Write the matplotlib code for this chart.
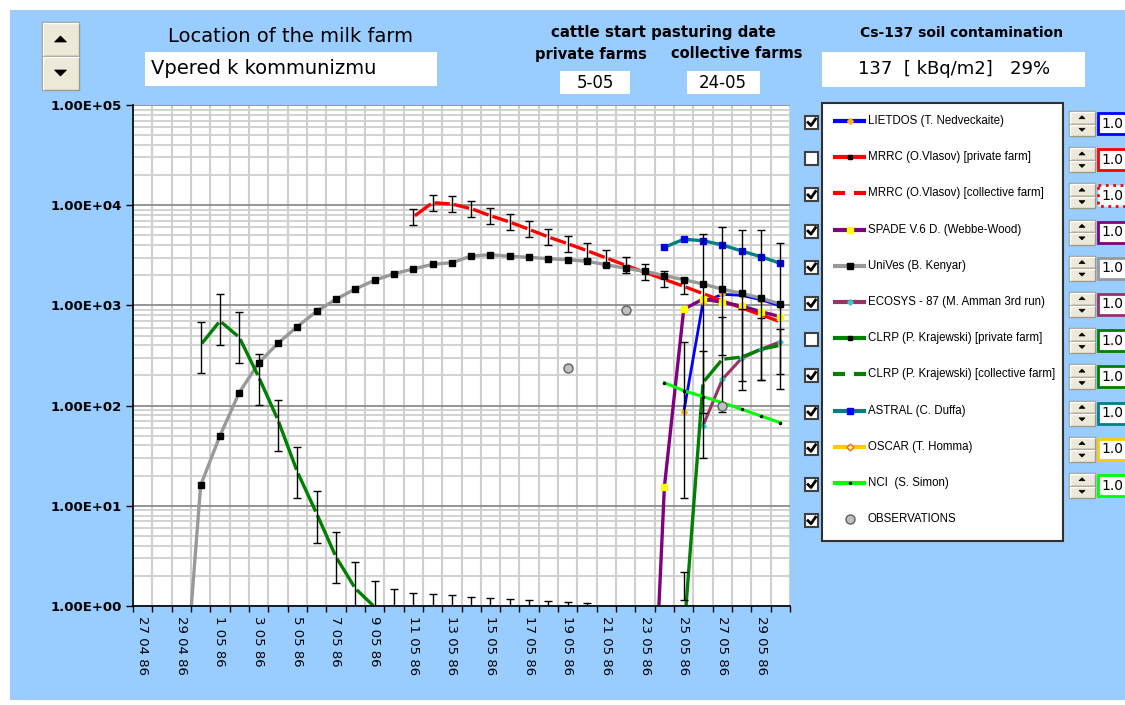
import numpy as np
import pandas as pd
import matplotlib
matplotlib.use("Agg")
import matplotlib.pyplot as plt
from matplotlib.patches import Rectangle, Polygon
from matplotlib.ticker import FixedLocator, LogLocator, NullFormatter

# one category per day
days = pd.date_range("1986-04-27", "1986-05-30", freq="D")
day_labels = [f"{d.day} {d.month:02d} 86" for d in days]

ytick_values = [1, 10, 100, 1000, 10000, 100000]
ytick_labels = ["1.00E+00", "1.00E+01", "1.00E+02", "1.00E+03", "1.00E+04", "1.00E+05"]

# model results, each series starts at a day index
lietdos_start = 28
lietdos = [86, 1080, 1290, 1260, 1140, 990]

mrrc_coll_start = 14
mrrc_coll = [7620, 10600, 10280, 9230, 7850, 6790, 5740, 4815, 4130, 3515,
             2970, 2512, 2138, 1820, 1550, 1310, 1110, 943, 806, 687]

spade_start = 26
spade = [0.001, 15.5, 914, 1158, 1074, 986, 865, 771]

unives_start = 2
unives = [0.05, 16, 50, 135, 266, 419, 614, 873, 1150, 1459, 1780, 2072,
          2308, 2571, 2667, 3112, 3206, 3090, 3020, 2924, 2857, 2754, 2547,
          2345, 2188, 1982, 1807, 1636, 1448, 1321, 1178, 1033]

ecosys_start = 29
ecosys = [63, 183, 297, 365, 434]

clrp_early_start = 3
clrp_early = [403, 699, 480, 194, 72, 21.9, 8.4, 3.1, 1.5, 0.98, 0.6]
clrp_late_start = 28
clrp_late = [0.5, 170, 290, 305, 365, 400]

astral_start = 27
astral = [3800, 4570, 4425, 4010, 3490, 3060, 2630]

nci_start = 27
nci = [169, 141, 123, 107, 91.9, 78.7, 67.5]

obs_days = [22, 25, 30]
obs = [239, 900, 99]

# uncertainty bars
mrrc_err_start = 14
mrrc_err = mrrc_coll[:15]
mrrc_err_factor = 1.2

clrp_err_start = 3
clrp_err = [380, 718, 479, 182, 63.4, 21.7, 7.73, 3.07, 1.52, 0.99, 0.82,
            0.755, 0.733, 0.71, 0.69, 0.67, 0.65, 0.64, 0.62, 0.605, 0.59]
clrp_err_factor = 1.8

range_days = [28, 28, 29, 29, 30, 30, 31, 31, 32, 32, 33, 33]
range_lo = [11.9, 1.15, 29.8, 83.8, 86.9, 320, 143, 176, 180, 180, 146, 207]
range_hi = [434, 2.2, 5130, 351, 6100, 771, 5650, 914, 5650, 743, 4170, 577]

legend_names = ["LIETDOS (T. Nedveckaite)", "MRRC (O.Vlasov) [private farm]",
                "MRRC (O.Vlasov) [collective farm]", "SPADE V.6 D. (Webbe-Wood)",
                "UniVes (B. Kenyar)", "ECOSYS - 87 (M. Amman 3rd run)",
                "CLRP (P. Krajewski) [private farm]", "CLRP (P. Krajewski) [collective farm]",
                "ASTRAL (C. Duffa)", "OSCAR (T. Homma)", "NCI  (S. Simon)", "OBSERVATIONS"]
legend_checked = [True, False, True, True, True, True, False, True, True, True, True, True]
legend_values = ["1.0"] * 11

farm_name = "Vpered k kommunizmu"
start_private = "5-05"
start_collective = "24-05"
soil_text = "137  [ kBq/m2]   29%"

BLUE_BG = "#99ccff"
BEIGE = "#ece9d8"

# line styles (colour, marker, marker colour, marker size)
styles = [
    dict(color="#0000ff", ls="-", marker="D", mfc="#ffb300", mec="#ffb300", ms=3),
    dict(color="#ff0000", ls="-", marker="s", mfc="black", mec="black", ms=3),
    dict(color="#ff0000", ls="--", marker=None),
    dict(color="#800080", ls="-", marker="s", mfc="#ffff00", mec="#ffff00", ms=4.5),
    dict(color="#999999", ls="-", marker="s", mfc="black", mec="black", ms=3.8),
    dict(color="#993366", ls="-", marker="D", mfc="#33cccc", mec="#33cccc", ms=2.8),
    dict(color="#008000", ls="-", marker="s", mfc="black", mec="black", ms=3),
    dict(color="#008000", ls="--", marker=None),
    dict(color="#008080", ls="-", marker="s", mfc="#0000ff", mec="#0000ff", ms=4),
    dict(color="#ffcc00", ls="-", marker="D", mfc="#ffffcc", mec="#ff6600", ms=3.5),
    dict(color="#00ff00", ls="-", marker="o", mfc="black", mec="black", ms=1.5),
    dict(color=None, ls="", marker="o", mfc="#c0c0c0", mec="#606060", ms=6.5),
]

W, H = 1125, 705
fig = plt.figure(figsize=(W / 100, H / 100), dpi=100)
fig.patch.set_facecolor("white")

bg = fig.add_axes([0, 0, 1, 1], zorder=0)
bg.set_xlim(0, W)
bg.set_ylim(H, 0)
bg.set_axis_off()
bg.add_patch(Rectangle((10, 10), W - 10, 690, facecolor=BLUE_BG, edgecolor="none"))


def spin(x, y, w, h, t):
    for yy, up in ((y, True), (y + h / 2, False)):
        bg.add_patch(Rectangle((x, yy), w, h / 2, facecolor=BEIGE, edgecolor="#9d9a8a", lw=1))
        bg.plot([x + 1, x + 1, x + w - 1], [yy + h / 2 - 1, yy + 1, yy + 1], color="white", lw=1)
        cx, cy = x + w / 2, yy + h / 4
        if up:
            pts = [(cx - t, cy + t / 2), (cx + t, cy + t / 2), (cx, cy - t / 2)]
        else:
            pts = [(cx - t, cy - t / 2), (cx + t, cy - t / 2), (cx, cy + t / 2)]
        bg.add_patch(Polygon(pts, closed=True, facecolor="black", edgecolor="black", lw=0.5))


def white_box(x0, y0, x1, y1):
    bg.add_patch(Rectangle((x0, y0), x1 - x0, y1 - y0, facecolor="white", edgecolor="none"))


# header area
spin(42, 22, 37, 68, 6)
bg.text(290, 36, "Location of the milk farm", fontsize=14, ha="center", va="center")
white_box(145, 52, 437, 86)
bg.text(151, 69, farm_name, fontsize=14, ha="left", va="center")

bg.text(663, 33, "cattle start pasturing date", fontsize=10.8, fontweight="bold", ha="center", va="center")
bg.text(591, 54, "private farms", fontsize=10.5, fontweight="bold", ha="center", va="center")
bg.text(737, 54, "collective farms", fontsize=10.5, fontweight="bold", ha="center", va="center")
white_box(560, 71, 630, 94)
bg.text(595, 83, start_private, fontsize=12, ha="center", va="center")
white_box(687, 71, 760, 94)
bg.text(723, 83, start_collective, fontsize=12, ha="center", va="center")

bg.text(962, 33, "Cs-137 soil contamination", fontsize=10, fontweight="bold", ha="center", va="center")
white_box(822, 52, 1085, 87)
bg.text(954, 69, soil_text, fontsize=13, ha="center", va="center")

# legend panel
bg.add_patch(Rectangle((822, 103), 241, 438, facecolor="white", edgecolor="#303030", lw=1.5))
for k, name in enumerate(legend_names):
    y = 121 + 36.2 * k
    st = styles[k]
    # checkbox
    bg.add_patch(Rectangle((805, y - 5), 13, 13, facecolor="white", edgecolor="#404040", lw=1.5))
    if legend_checked[k]:
        bg.plot([808, 811, 815.5], [y + 1.5, y + 4.5, y - 2], color="black", lw=2)
    # sample
    if st["color"] is not None:
        if st["ls"] == "--":
            bg.plot([833, 845], [y, y], color=st["color"], lw=3, solid_capstyle="butt")
            bg.plot([854, 866], [y, y], color=st["color"], lw=3, solid_capstyle="butt")
        else:
            bg.plot([833, 866], [y, y], color=st["color"], lw=3, solid_capstyle="butt")
    if st["marker"]:
        bg.plot([849.5], [y], ls="", marker=st["marker"], mfc=st["mfc"], mec=st["mec"], ms=st["ms"])
    bg.text(868, y, name, fontsize=8.3, family="Liberation Sans", ha="left", va="center")
    # spinner and factor box
    if k < len(legend_values):
        spin(1069, y - 10, 26, 25, 3)
        box = Rectangle((1098, y - 8), 40, 21, facecolor="white", edgecolor=st["color"], lw=2,
                        ls=":" if k == 2 else "-")
        bg.add_patch(box)
        bg.text(1101, y + 2.5, legend_values[k], fontsize=10, ha="left", va="center")

# plot area
L, R, T, B = 133, 790, 105, 606
ax = fig.add_axes([L / W, 1 - B / H, (R - L) / W, (B - T) / H], zorder=1)
ax.set_facecolor("white")
ax.set_yscale("log")
ax.set_xlim(-0.5, len(days) - 0.5)
ax.set_ylim(1, 1e5)

ax.yaxis.set_major_locator(FixedLocator(ytick_values))
ax.set_yticklabels(ytick_labels)
ax.yaxis.set_minor_locator(LogLocator(base=10, subs=np.arange(2, 10)))
ax.yaxis.set_minor_formatter(NullFormatter())
ax.set_xticks(np.arange(-0.5, len(days), 1))
ax.set_xticklabels([])
ax.set_xticks(range(0, len(days), 2), [day_labels[i] for i in range(0, len(days), 2)],
              minor=True, rotation=-90, fontsize=9.5)

ax.tick_params(axis="y", which="major", direction="out", length=5, width=1, pad=3)
for lab in ax.get_yticklabels():
    lab.set_fontweight("bold")
    lab.set_fontsize(9.5)
ax.tick_params(axis="y", which="minor", length=0)
ax.tick_params(axis="x", which="major", direction="out", length=4, width=1)
ax.tick_params(axis="x", which="minor", length=0, pad=7)

ax.grid(True, axis="y", which="major", color="#8c8c8c", lw=1.3)
ax.grid(True, axis="y", which="minor", color="#cfcfcf", lw=1.3)
ax.grid(True, axis="x", which="major", color="#cfcfcf", lw=1.5)
ax.set_axisbelow(True)
for s in ("top", "right"):
    ax.spines[s].set_visible(False)
for s in ("left", "bottom"):
    ax.spines[s].set_color("black")
    ax.spines[s].set_linewidth(1.2)


def xs(start, vals):
    return np.arange(start, start + len(vals))


def plot_line(start, vals, st, lw=2.4):
    ax.plot(xs(start, vals), vals, color=st["color"], lw=lw, marker=st["marker"],
            mfc=st.get("mfc"), mec=st.get("mec"), ms=st.get("ms", 0), clip_on=True)


def plot_broken(start, vals, color, lw=2.4, gap=4):
    # dashed look: a short break at each data point
    pts = ax.transData.transform(np.column_stack([xs(start, vals), vals]))
    inv = ax.transData.inverted()
    for p0, p1 in zip(pts[:-1], pts[1:]):
        d = p1 - p0
        n = np.hypot(d[0], d[1])
        if n <= gap:
            continue
        u = d / n
        seg = inv.transform([p0 + u * gap / 2, p1 - u * gap / 2])
        ax.plot(seg[:, 0], seg[:, 1], color=color, lw=lw, solid_capstyle="butt")


def bars(x, lo, hi):
    lo, hi = np.asarray(lo, float), np.asarray(hi, float)
    c = np.sqrt(lo * hi)
    ax.errorbar(x, c, yerr=[c - lo, hi - c], fmt="none", ecolor="black",
                elinewidth=1, capsize=3, capthick=1, zorder=2.5)


bars(xs(mrrc_err_start, mrrc_err), np.array(mrrc_err) / mrrc_err_factor,
     np.array(mrrc_err) * mrrc_err_factor)
bars(xs(clrp_err_start, clrp_err), np.array(clrp_err) / clrp_err_factor,
     np.array(clrp_err) * clrp_err_factor)
bars(range_days, range_lo, range_hi)

plot_line(lietdos_start, lietdos, styles[0], lw=2)
plot_broken(mrrc_coll_start, mrrc_coll, styles[2]["color"])
plot_line(spade_start, spade, styles[3])
plot_line(unives_start, unives, styles[4])
plot_line(ecosys_start, ecosys, styles[5], lw=2.2)
plot_broken(clrp_early_start, clrp_early, styles[7]["color"])
plot_broken(clrp_late_start, clrp_late, styles[7]["color"])
plot_line(astral_start, astral, styles[8])
plot_line(nci_start, nci, styles[10], lw=2.2)
st = styles[11]
ax.plot(obs_days, obs, ls="", marker="o", mfc=st["mfc"], mec=st["mec"], ms=st["ms"], zorder=4)

fig.savefig("out.png", dpi=100)
